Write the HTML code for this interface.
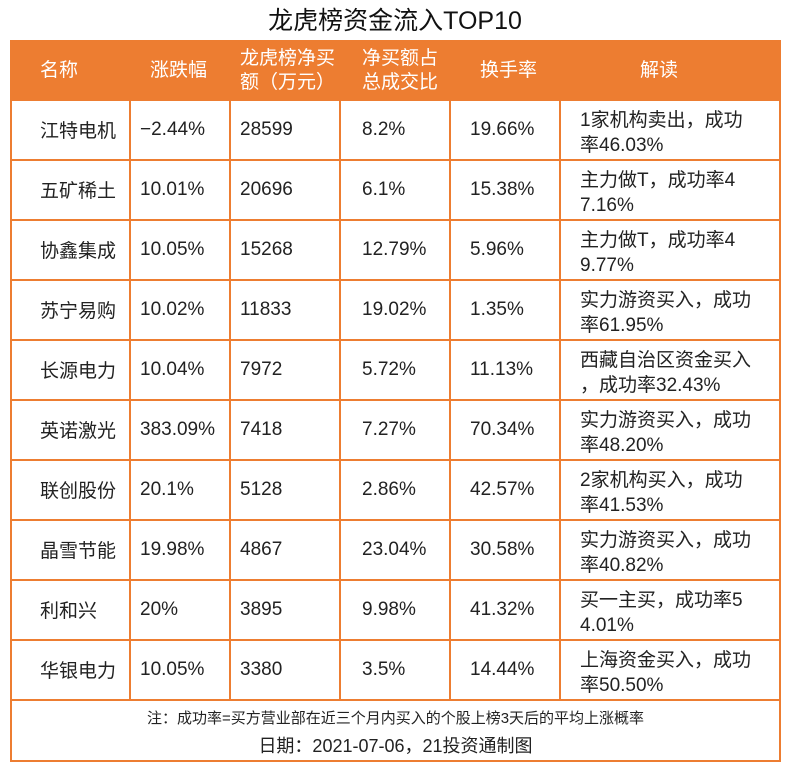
<!DOCTYPE html>
<html><head><meta charset="utf-8">
<style>
body{margin:0;width:790px;height:770px;background:#fff;position:relative;overflow:hidden;font-family:"Liberation Sans","Noto Sans CJK SC",sans-serif;color:#222}
.t{position:absolute;white-space:nowrap}
.vl{position:absolute;width:2px;background:#ed7d31}
.hl{position:absolute;height:2px;background:#ed7d31;left:10px;width:771px}
.h{color:#fff;font-size:19px;line-height:24px;position:absolute}
.c{font-size:19px;position:absolute;line-height:25px}
</style></head><body>
<div class="t" style="left:0;width:790px;text-align:center;top:5px;font-size:25px;line-height:32px;color:#111">龙虎榜资金流入TOP10</div>
<div style="position:absolute;left:10px;top:40px;width:767px;height:718px;border:2px solid #ed7d31"></div>
<div style="position:absolute;left:10px;top:40px;width:771px;height:60px;background:#ed7d31"></div>
<div id="tbl"></div>
<div class="t" style="left:12px;width:767px;text-align:center;top:709px;font-size:15px;line-height:20px">注：成功率=买方营业部在近三个月内买入的个股上榜3天后的平均上涨概率</div>
<div class="t" style="left:12px;width:767px;text-align:center;top:734px;font-size:18px;line-height:24px">日期：2021-07-06，21投资通制图</div>
<script>
const names=["江特电机","五矿稀土","协鑫集成","苏宁易购","长源电力","英诺激光","联创股份","晶雪节能","利和兴","华银电力"];
const changes=["-2.44%","10.01%","10.05%","10.02%","10.04%","383.09%","20.1%","19.98%","20%","10.05%"];
const netBuy=["28599","20696","15268","11833","7972","7418","5128","4867","3895","3380"];
const shares=["8.2%","6.1%","12.79%","19.02%","5.72%","7.27%","2.86%","23.04%","9.98%","3.5%"];
const turnover=["19.66%","15.38%","5.96%","1.35%","11.13%","70.34%","42.57%","30.58%","41.32%","14.44%"];
const notes1=["1家机构卖出，成功","主力做T，成功率4","主力做T，成功率4","实力游资买入，成功","西藏自治区资金买入","实力游资买入，成功","2家机构买入，成功","实力游资买入，成功","买一主买，成功率5","上海资金买入，成功"];
const notes2=["率46.03%","7.16%","9.77%","率61.95%","，成功率32.43%","率48.20%","率41.53%","率40.82%","4.01%","率50.50%"];
const headers=[["名称"],["涨跌幅"],["龙虎榜净买","额（万元）"],["净买额占","总成交比"],["换手率"],["解读"]];
const tbl=document.getElementById('tbl');
const colX=[10,130,230,340,450,560,781];
const hx=[40,150,240,362,480,640];
function add(cls,txt,x,y,name){const d=document.createElement('div');d.className=cls;d.style.left=x+'px';d.style.top=y+'px';d.innerHTML=txt;


tbl.appendChild(d);return d;}
headers.forEach((h,i)=>{const y=h.length>1?47:59;add('h',h.join('<br>'),hx[i],y,'header-'+i);});
for(let i=1;i<6;i++){const v=document.createElement('div');v.className='vl';v.style.left=(colX[i]-1)+'px';v.style.top='100px';v.style.height='600px';


tbl.appendChild(v);}
for(let r=0;r<=10;r++){const l=document.createElement('div');l.className='hl';l.style.top=(99+r*60)+'px';


tbl.appendChild(l);}
names.forEach((n,r)=>{const y=100+r*60;const cy=y+19;
add('c',n,40,cy,'stock-name');
add('c',changes[r].replace('-','−'),140,cy-2,'change-pct');
add('c',netBuy[r],240,cy-2,'net-buy');
add('c',shares[r],362,cy-2,'net-buy-share');
add('c',turnover[r],470,cy-2,'turnover');
add('c',notes1[r]+'<br>'+notes2[r],580,y+8,'interpretation');});
</script>
</body></html>
